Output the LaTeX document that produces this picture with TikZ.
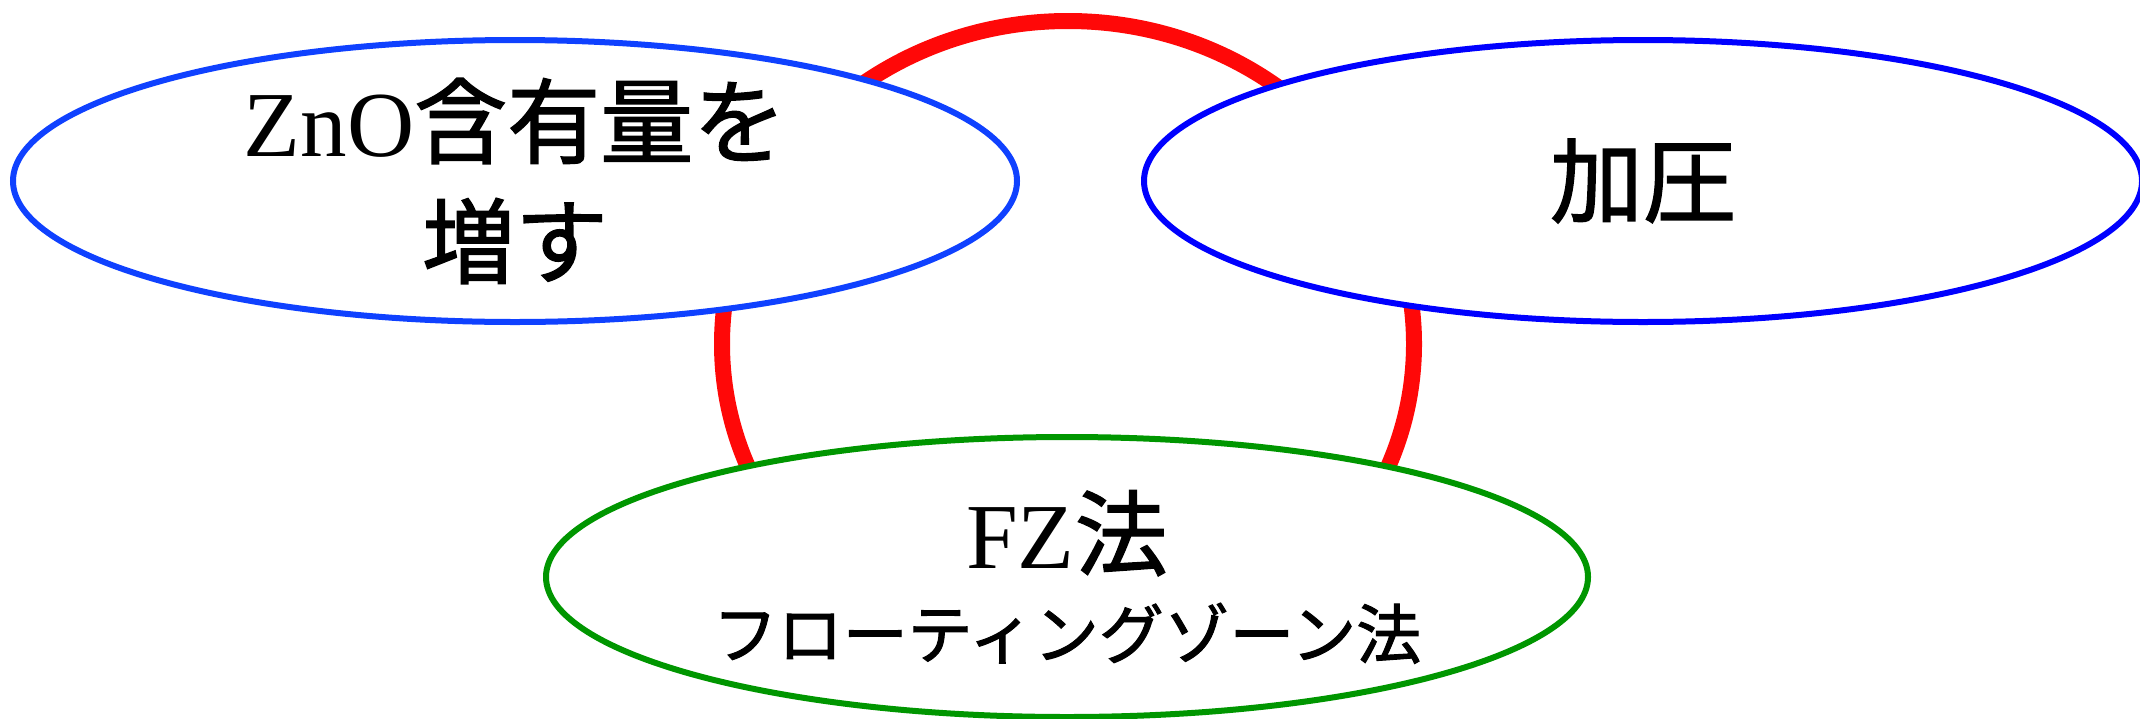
\documentclass[tikz,border=0pt]{standalone}
\usepackage{fontspec}
\setmainfont{Liberation Serif}
\newfontfamily\jp[FakeBold=1.5]{Noto Sans CJK JP}
\usetikzlibrary{shapes.geometric}
\definecolor{blueA}{RGB}{15,65,255}
\definecolor{blueB}{RGB}{0,0,255}
\definecolor{greenC}{RGB}{0,150,0}
\definecolor{ringred}{RGB}{255,8,8}
\tikzset{
  oval/.style={ellipse, fill=white, line width=6pt, inner sep=0pt, outer sep=0pt},
  bigtext/.style={font=\fontsize{93}{120}\selectfont, align=center, inner sep=0pt},
  ringline/.style={draw=ringred, line width=16pt}
}
\begin{document}
\begin{tikzpicture}[x=1pt,y=-1pt]
\useasboundingbox (0,0) rectangle (2140,718);
% red ring behind
\draw[ringline] (1068,344) ellipse [x radius=346, y radius=323];
% ellipses
\node[oval, draw=blueA, minimum width=1004pt, minimum height=282pt] (zno) at (515,181) {};
\node[oval, draw=blueB, minimum width=998pt, minimum height=282pt] (press) at (1643,181) {};
\node[oval, draw=greenC, minimum width=1042pt, minimum height=280pt] (fz) at (1067,577) {};
% texts
\node[bigtext] (znoT) at (zno.center) {ZnO{\jp 含有量を}\\{\jp 増す}};
\node[bigtext] (pressT) at (press.center) {{\jp 加圧}};
\node[bigtext, font=\fontsize{93}{90}\selectfont] (fzT) at (fz.center) {FZ{\jp 法}\\{\fontsize{65}{90}\selectfont\jp フローティングゾーン法}};
\end{tikzpicture}
\end{document}
